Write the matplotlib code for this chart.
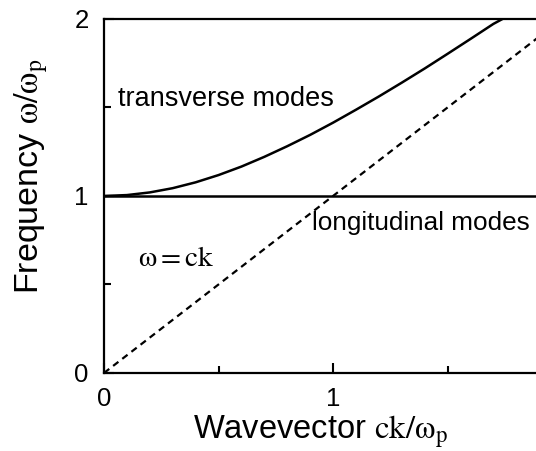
import matplotlib
matplotlib.use("Agg")
import matplotlib.pyplot as plt

plt.rcParams['font.family'] = ['Liberation Sans', 'DejaVu Sans']
plt.rcParams['mathtext.fontset'] = 'stix'

# transverse branch
k_trans = [0.0, 0.1, 0.2, 0.3, 0.4, 0.5, 0.6, 0.7, 0.8, 0.9, 1.0,
           1.1, 1.2, 1.3, 1.4, 1.5, 1.6, 1.7, 1.74]
w_trans = [1.0, 1.005, 1.02, 1.044, 1.077, 1.118, 1.166, 1.221, 1.281, 1.345, 1.414,
           1.487, 1.562, 1.640, 1.720, 1.803, 1.887, 1.972, 2.0]

# longitudinal branch (flat) and light line
k_long = [0.0, 1.9]
w_long = [1.0, 1.0]
k_light = [0.0, 1.9]
w_light = [0.0, 1.9]

xticks = [0, 1]
yticks = [0, 1, 2]

fig = plt.figure(figsize=(5.36, 4.51), dpi=100)
ax = fig.add_axes([0.194, 0.173, 0.806, 0.785])

ax.plot(k_trans, w_trans, color='black', lw=1.8)
ax.plot(k_long, w_long, color='black', lw=1.8)
ax.plot(k_light, w_light, color='black', lw=1.6, ls=(0, (3, 2.2)))

ax.set_xlim(0, 1.886)
ax.set_ylim(0, 2)
ax.spines['right'].set_visible(False)
for s in ['left', 'bottom', 'top']:
    ax.spines[s].set_linewidth(1.6)

ax.set_xticks(xticks)
ax.set_yticks(yticks)
ax.set_xticks([0.5, 1.5], minor=True)
ax.set_yticks([0.5, 1.5], minor=True)
ax.tick_params(which='both', direction='in', width=1.5, labelsize=18.5,
               top=False, right=False)
ax.tick_params(which='major', length=7)
ax.tick_params(axis='x', which='major', pad=10)
ax.tick_params(axis='y', which='major', pad=11)
ax.tick_params(which='minor', length=5)

ax.set_xlabel(r'Wavevector $\mathrm{ck/\omega_p}$', fontsize=23.5, labelpad=2)
ax.set_ylabel(r'Frequency $\mathrm{\omega/\omega_p}$', fontsize=24.5)
ax.yaxis.set_label_coords(-0.124, 0.555)

ax.text(0.06, 1.55, 'transverse modes', fontsize=19.5, va='center')
ax.text(0.91, 0.85, 'longitudinal modes', fontsize=18.8, va='center', clip_on=False)
ax.text(0.15, 0.65, r'$\mathrm{\omega = ck}$', fontsize=21, va='center')

fig.savefig('out.png', dpi=100)
